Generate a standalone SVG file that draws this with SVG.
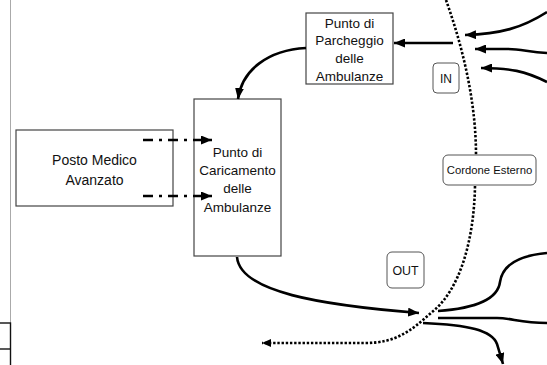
<svg xmlns="http://www.w3.org/2000/svg" width="547" height="365" viewBox="0 0 547 365">
  <style>
    .box { fill: #ffffff; stroke: #444444; stroke-width: 1.2; }
    .tag { fill: #ffffff; stroke: #555555; stroke-width: 1; }
    .lbl { font-family: "Liberation Sans", Arial, sans-serif; fill: #111111; text-anchor: middle; }
    .flow { fill: none; stroke: #000000; stroke-width: 2.6; }
    .dashdot { fill: none; stroke: #000000; stroke-width: 2.6; stroke-dasharray: 10 6 3 6; }
    .cordon { fill: none; stroke: #000000; stroke-width: 2.6; stroke-dasharray: 2.4 1.8; }
  </style>
  <defs>
    <marker id="arrow" markerUnits="userSpaceOnUse" markerWidth="11" markerHeight="9" refX="11" refY="4.5" orient="auto">
      <path d="M0,0 L11,4.5 L0,9 z" fill="#000000"/>
    </marker>
    <marker id="arrowSmall" markerUnits="userSpaceOnUse" markerWidth="9" markerHeight="8" refX="9" refY="4" orient="auto">
      <path d="M0,0 L9,4 L0,8 z" fill="#000000"/>
    </marker>
  </defs>

  <!-- page margin rule and corner block -->
  <line x1="10.5" y1="0" x2="10.5" y2="323" stroke="#aaaaaa" stroke-width="1"/>
  <rect x="-1" y="323" width="11.5" height="44" fill="none" stroke="#111111" stroke-width="1.4"/>
  <line x1="0" y1="349" x2="10.5" y2="349" stroke="#111111" stroke-width="1.4"/>

  <g id="posto-medico">
    <rect class="box" x="16" y="130" width="157" height="76"/>
    <text class="lbl" font-size="14" x="94.5" y="165">Posto Medico</text>
    <text class="lbl" font-size="14" x="94.5" y="185">Avanzato</text>
  </g>

  <g id="punto-caricamento">
    <rect class="box" x="194" y="99" width="87" height="157"/>
    <text class="lbl" font-size="13.5" x="237.5" y="156.5">Punto di</text>
    <text class="lbl" font-size="13.5" x="237.5" y="175">Caricamento</text>
    <text class="lbl" font-size="13.5" x="237.5" y="193">delle</text>
    <text class="lbl" font-size="13.5" x="237.5" y="211.5">Ambulanze</text>
  </g>

  <g id="punto-parcheggio">
    <rect class="box" x="306" y="13" width="87" height="71"/>
    <text class="lbl" font-size="13.5" x="349.5" y="27.5">Punto di</text>
    <text class="lbl" font-size="13.5" x="349.5" y="45">Parcheggio</text>
    <text class="lbl" font-size="13.5" x="349.5" y="63">delle</text>
    <text class="lbl" font-size="13.5" x="349.5" y="81">Ambulanze</text>
  </g>

  <g id="in">
    <rect class="tag" x="433" y="63" width="26" height="30" rx="4"/>
    <text class="lbl" font-size="12" x="446" y="82.5">IN</text>
  </g>

  <g id="out">
    <rect class="tag" x="387" y="252" width="37" height="36" rx="5"/>
    <text class="lbl" font-size="12.4" x="405.5" y="274.5">OUT</text>
  </g>

  <g id="connectors">
    <!-- outer cordon, broken where its label sits -->
    <path class="cordon" d="M446,0 C462,45 476,100 476,155"/>
    <path class="cordon" d="M475,186 C474,240 460,290 432,312 C410,332 395,343 365,343 L262,343" marker-end="url(#arrowSmall)"/>
    <!-- inbound vehicles -->
    <path class="flow" d="M547,12 C522,28 500,34 465,35" marker-end="url(#arrow)"/>
    <path class="flow" d="M547,53 C528,52 522,49 508,49 L475,49" marker-end="url(#arrow)"/>
    <path class="flow" d="M547,82 C525,71 510,68 481,68" marker-end="url(#arrow)"/>
    <!-- entry to parking -->
    <path class="flow" d="M453,43 L394,43" marker-end="url(#arrow)"/>
    <!-- parking to loading -->
    <path class="flow" d="M306,48 C268,50 242,70 238,99" marker-end="url(#arrow)"/>
    <!-- medical post to loading -->
    <path class="dashdot" d="M143,140 L212,140" marker-end="url(#arrow)"/>
    <path class="dashdot" d="M143,196 L212,196" marker-end="url(#arrow)"/>
    <!-- loading to exit -->
    <path class="flow" d="M237,257 C240,292 320,305 419,313" marker-end="url(#arrow)"/>
    <!-- outbound vehicles -->
    <path class="flow" d="M438,311 C480,308 498,298 500,282 C503,262 525,255 547,253"/>
    <path class="flow" d="M438,318 L497,318 C512,318 520,323 547,323"/>
    <path class="flow" d="M423,323 C468,325 492,330 497,344 L503,364" marker-end="url(#arrow)"/>
  </g>

  <g id="cordone-esterno">
    <rect class="tag" x="443" y="155" width="93" height="30" rx="5"/>
    <text class="lbl" font-size="11.3" x="489.5" y="174">Cordone Esterno</text>
  </g>
</svg>
